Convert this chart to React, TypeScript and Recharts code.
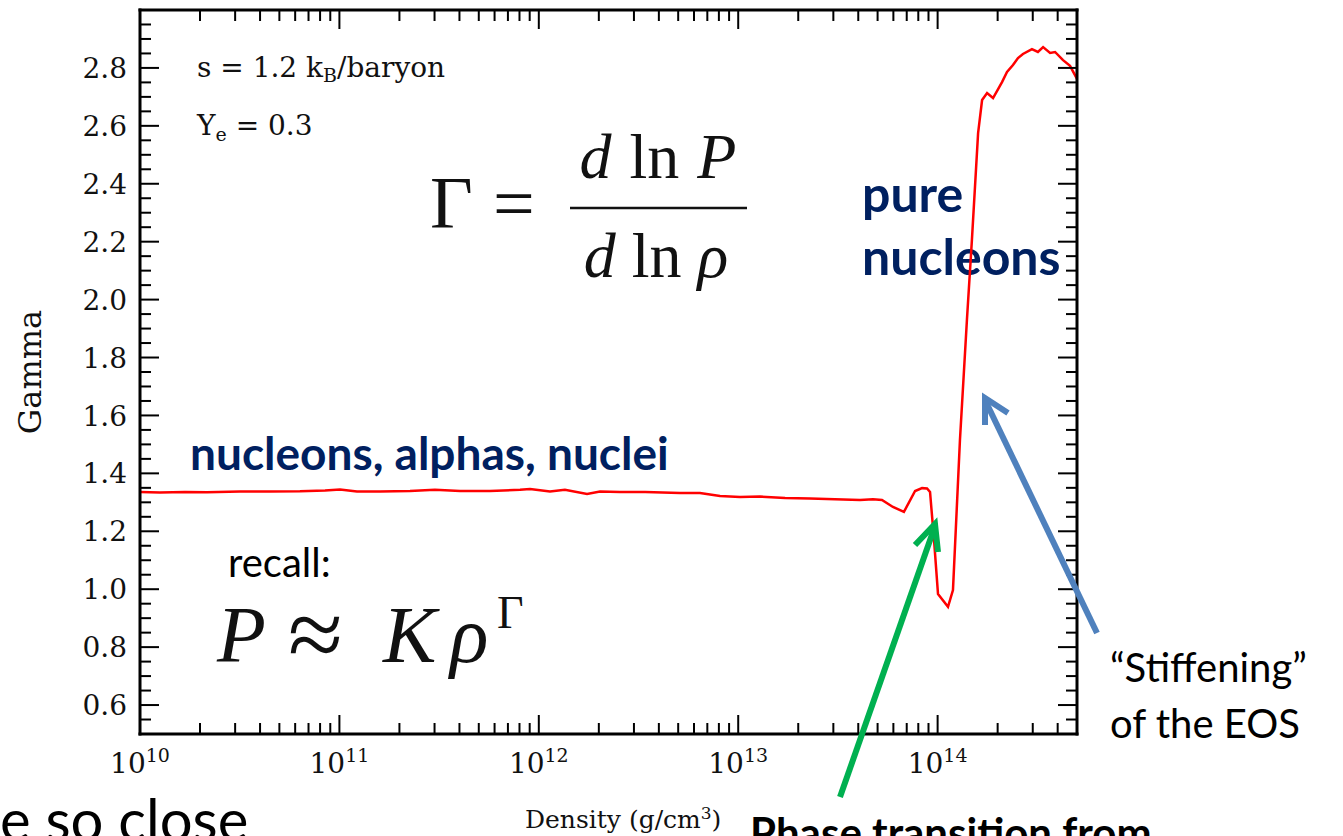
import React from "react";
import { LineChart, Line, XAxis, YAxis } from "recharts";

// log10 of density (g/cm^3) and the adiabatic index at each point
const logRho = [
  10.0, 10.1, 10.226, 10.336, 10.502, 10.652, 10.802, 10.928, 11.003, 11.088,
  11.204, 11.354, 11.479, 11.605, 11.755, 11.906, 11.956, 12.056, 12.131, 12.242,
  12.307, 12.407, 12.533, 12.708, 12.808, 12.909, 13.009, 13.109, 13.235, 13.36,
  13.485, 13.611, 13.676, 13.721, 13.776, 13.831, 13.887, 13.922, 13.947, 13.962,
  13.982, 14.002, 14.052, 14.077, 14.112, 14.147, 14.172, 14.203, 14.223, 14.248,
  14.278, 14.323, 14.348, 14.378, 14.403, 14.428, 14.473, 14.503, 14.529, 14.564,
  14.589, 14.629, 14.664, 14.699,
];
const gamma = [
  1.336, 1.334, 1.336, 1.335, 1.337, 1.337, 1.338, 1.341, 1.344, 1.337,
  1.337, 1.339, 1.343, 1.339, 1.339, 1.343, 1.346, 1.337, 1.343, 1.329,
  1.337, 1.336, 1.336, 1.332, 1.332, 1.322, 1.318, 1.32, 1.315, 1.313,
  1.311, 1.308, 1.311, 1.308, 1.284, 1.267, 1.339, 1.349, 1.348, 1.336,
  1.17, 0.983, 0.939, 0.997, 1.515, 1.93, 2.206, 2.575, 2.689, 2.713,
  2.696, 2.751, 2.786, 2.81, 2.834, 2.848, 2.865, 2.855, 2.872, 2.852,
  2.855, 2.827, 2.807, 2.762,
];

const decadeTicks = [10, 11, 12, 13, 14];
const gammaTicks = [0.6, 0.8, 1.0, 1.2, 1.4, 1.6, 1.8, 2.0, 2.2, 2.4, 2.6, 2.8];

const X_MIN = 10;
const X_MAX = 14 + Math.log10(5);
const Y_MIN = 0.5;
const Y_MAX = 3.0;

const rows = logRho.map((x, i) => ({ logRho: x, gamma: gamma[i] }));

// decades plus the 2..9 sub-decade marks
const xTicks = decadeTicks
  .flatMap((d) => [d, ...[2, 3, 4, 5, 6, 7, 8, 9].map((k) => d + Math.log10(k))])
  .filter((v) => v < X_MAX - 1e-6);
const yTicks: number[] = [];
for (let i = 1; i < 50; i++) yTicks.push(+(Y_MIN + i * 0.05).toFixed(2));

const isMajorX = (v: number) => Math.abs(v - Math.round(v)) < 1e-6;
const isMajorY = (v: number) =>
  gammaTicks.some((t) => Math.abs(t - v) < 1e-6);

const MAJOR = 19;
const MINOR = 11;
const SERIF = "'DejaVu Serif', serif";
const TEX = "'Liberation Serif', serif";
const SANS = "Lato, 'Open Sans', sans-serif";
const NAVY = "#002060";

const BottomTick = ({ x, y, payload }: any) => {
  const v = payload.value;
  const major = isMajorX(v);
  return (
    <g>
      <line x1={x} y1={y} x2={x} y2={y - (major ? MAJOR : MINOR)} stroke="#000" strokeWidth={2} />
      {major && (
        <text x={x} y={y + 39} textAnchor="middle" fontFamily={SERIF} fontSize={28} fill="#111">
          10
          <tspan dy={-11} fontSize={19}>{Math.round(v)}</tspan>
        </text>
      )}
    </g>
  );
};

const TopTick = ({ x, y, payload }: any) => {
  const major = isMajorX(payload.value);
  return <line x1={x} y1={y} x2={x} y2={y + (major ? MAJOR : MINOR)} stroke="#000" strokeWidth={2} />;
};

const LeftTick = ({ x, y, payload }: any) => {
  const v = payload.value;
  const major = isMajorY(v);
  return (
    <g>
      <line x1={x} y1={y} x2={x + (major ? MAJOR : MINOR)} y2={y} stroke="#000" strokeWidth={2} />
      {major && (
        <text x={x - 13} y={y} dy="0.36em" textAnchor="end" fontFamily={SERIF} fontSize={28} fill="#111">
          {v.toFixed(1)}
        </text>
      )}
    </g>
  );
};

const RightTick = ({ x, y, payload }: any) => {
  const major = isMajorY(payload.value);
  return <line x1={x} y1={y} x2={x - (major ? MAJOR : MINOR)} y2={y} stroke="#000" strokeWidth={2} />;
};

const frame = { stroke: "#000", strokeWidth: 3, strokeLinecap: "square" as const };

export default function App() {
  return (
    <div style={{ position: "absolute", left: 0, top: 0, width: 1343, height: 836, background: "#fff" }}>
      {/* slide text sitting behind the plot */}
      <svg width={1343} height={836} style={{ position: "absolute", left: 0, top: 0 }}>
        <text x={197} y={77} fontFamily={SERIF} fontSize={28} fill="#111">
          s = 1.2 k<tspan fontSize={19} dy={5}>B</tspan>
          <tspan dy={-5}>/baryon</tspan>
        </text>
        <text x={197} y={135} fontFamily={SERIF} fontSize={28} fill="#111">
          Y<tspan fontSize={19} dy={6}>e</tspan>
          <tspan dy={-6}> = 0.3</tspan>
        </text>

        {/* Gamma = d ln P / d ln rho */}
        <text x={430} y={228} fontFamily={TEX} fontSize={74} fill="#111">Γ</text>
        <text x={493} y={228} fontFamily={TEX} fontSize={74} fill="#111">=</text>
        <line x1={570} y1={208} x2={747} y2={208} stroke="#111" strokeWidth={2.5} />
        <text x={658} y={178} textAnchor="middle" fontFamily={TEX} fontSize={64} fill="#111">
          <tspan fontStyle="italic">d</tspan>
          <tspan dx={18}>ln</tspan>
          <tspan dx={18} fontStyle="italic">P</tspan>
        </text>
        <text x={656} y={277} textAnchor="middle" fontFamily={TEX} fontSize={64} fill="#111">
          <tspan fontStyle="italic">d</tspan>
          <tspan dx={16}>ln</tspan>
          <tspan dx={16} fontStyle="italic">ρ</tspan>
        </text>

        <text x={862} y={212} fontFamily={SANS} fontWeight={700} fontSize={50} fill={NAVY}>pure</text>
        <text x={862} y={275} fontFamily={SANS} fontWeight={700} fontSize={50} fill={NAVY}>nucleons</text>
        <text x={190} y={470} fontFamily={SANS} fontWeight={700} fontSize={46} fill={NAVY}>
          nucleons, alphas, nuclei
        </text>

        <text x={228} y={577} fontFamily={SANS} fontSize={40} fill="#000">recall:</text>
        <text y={662} fontFamily={TEX} fontSize={80} fill="#111">
          <tspan x={217} fontStyle="italic">P</tspan>
          <tspan x={288} fontSize={100} dy={6}>≈</tspan>
          <tspan x={383} dy={-6} fontStyle="italic">K</tspan>
          <tspan x={450} fontStyle="italic">ρ</tspan>
          <tspan x={497} dy={-34} fontSize={46}>Γ</tspan>
        </text>

        <text
          x={30}
          y={372}
          textAnchor="middle"
          dominantBaseline="central"
          transform="rotate(-90 30 372)"
          fontFamily={SERIF}
          fontSize={32}
          fill="#111"
        >
          Gamma
        </text>
        <text x={525} y={828} fontFamily={SERIF} fontSize={25} fill="#111">
          Density (g/cm<tspan fontSize={17} dy={-9}>3</tspan>
          <tspan dy={9}>)</tspan>
        </text>

        <text x={1110} y={682} fontFamily={SANS} fontSize={40} fill="#000">“Stiffening”</text>
        <text x={1110} y={738} fontFamily={SANS} fontSize={40} fill="#000">of the EOS</text>
        <text x={750} y={848} fontFamily={SANS} fontWeight={700} fontSize={42} fill="#000">
          Phase transition from
        </text>
        <text x={0} y={841} fontFamily={SANS} fontSize={58} fill="#000">e so close</text>
      </svg>

      <div style={{ position: "absolute", left: 0, top: 0 }}>
        <LineChart width={1343} height={836} data={rows} margin={{ top: 9, right: 265, bottom: 62, left: 80 }}>
          <XAxis
            xAxisId="bottom"
            dataKey="logRho"
            type="number"
            domain={[X_MIN, X_MAX]}
            ticks={xTicks}
            interval={0}
            height={40}
            tickSize={0}
            tickMargin={0}
            tickLine={false}
            axisLine={frame}
            tick={(p: any) => <BottomTick {...p} />}
          />
          <XAxis
            xAxisId="top"
            orientation="top"
            dataKey="logRho"
            type="number"
            domain={[X_MIN, X_MAX]}
            ticks={xTicks}
            interval={0}
            height={1}
            tickSize={0}
            tickMargin={0}
            tickLine={false}
            axisLine={frame}
            tick={(p: any) => <TopTick {...p} />}
          />
          <YAxis
            yAxisId="left"
            type="number"
            domain={[Y_MIN, Y_MAX]}
            ticks={yTicks}
            interval={0}
            width={60}
            tickSize={0}
            tickMargin={0}
            tickLine={false}
            axisLine={frame}
            tick={(p: any) => <LeftTick {...p} />}
          />
          <YAxis
            yAxisId="right"
            orientation="right"
            type="number"
            domain={[Y_MIN, Y_MAX]}
            ticks={yTicks}
            interval={0}
            width={1}
            tickSize={0}
            tickMargin={0}
            tickLine={false}
            axisLine={frame}
            tick={(p: any) => <RightTick {...p} />}
          />
          <Line
            xAxisId="bottom"
            yAxisId="left"
            dataKey="gamma"
            type="linear"
            stroke="#ff0000"
            strokeWidth={2.5}
            dot={false}
            activeDot={false}
            isAnimationActive={false}
          />
          {/* same series bound to the top/right frame axes so they are laid out */}
          <Line
            xAxisId="top"
            yAxisId="right"
            dataKey="gamma"
            stroke="none"
            dot={false}
            activeDot={false}
            legendType="none"
            isAnimationActive={false}
          />
        </LineChart>
      </div>

      {/* annotation arrows */}
      <svg width={1343} height={836} style={{ position: "absolute", left: 0, top: 0, pointerEvents: "none" }}>
        <g stroke="#00b050" strokeWidth={6} fill="none" strokeLinejoin="miter">
          <line x1={840} y1={797} x2={935} y2={526} />
          <polyline points="915,545 935,524 938,552" />
        </g>
        <g stroke="#4f81bd" strokeWidth={6} fill="none" strokeLinejoin="miter">
          <line x1={1097} y1={633} x2={985} y2={400} />
          <polyline points="985,425 985,398 1008,413" />
        </g>
      </svg>
    </div>
  );
}
